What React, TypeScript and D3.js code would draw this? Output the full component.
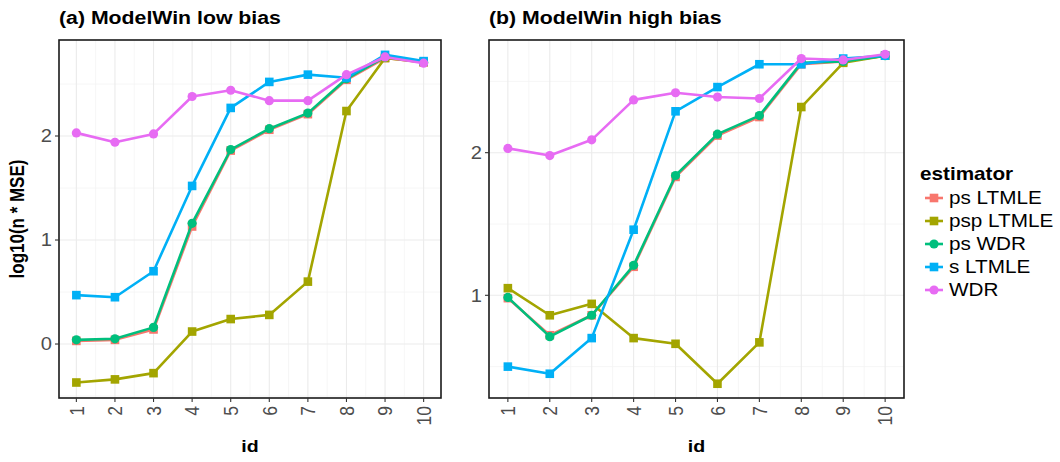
import { useEffect, useRef } from "react";
import * as d3 from "d3";

// estimator names + ggplot default hue colours
const estimators = ["ps LTMLE", "psp LTMLE", "ps WDR", "s LTMLE", "WDR"];
const colors = ["#F8766D", "#A3A500", "#00BF7D", "#00B0F6", "#E76BF3"];
const shapes = ["square", "square", "circle", "square", "circle"];
const ids = [1, 2, 3, 4, 5, 6, 7, 8, 9, 10];

// (a) ModelWin low bias
const lowPsLtmle = [0.03, 0.04, 0.14, 1.13, 1.86, 2.06, 2.21, 2.54, 2.75, 2.71];
const lowPspLtmle = [-0.37, -0.34, -0.28, 0.12, 0.24, 0.28, 0.6, 2.24, 2.75, 2.71];
const lowPsWdr = [0.04, 0.05, 0.16, 1.16, 1.87, 2.07, 2.22, 2.55, 2.76, 2.71];
const lowSLtmle = [0.47, 0.45, 0.7, 1.52, 2.27, 2.52, 2.59, 2.56, 2.78, 2.72];
const lowWdr = [2.03, 1.94, 2.02, 2.38, 2.44, 2.34, 2.34, 2.59, 2.76, 2.7];

// (b) ModelWin high bias
const highPsLtmle = [0.98, 0.72, 0.86, 1.2, 1.83, 2.12, 2.25, 2.62, 2.64, 2.68];
const highPspLtmle = [1.05, 0.86, 0.94, 0.7, 0.66, 0.38, 0.67, 2.32, 2.63, 2.68];
const highPsWdr = [0.985, 0.71, 0.86, 1.21, 1.84, 2.13, 2.26, 2.63, 2.64, 2.68];
const highSLtmle = [0.5, 0.45, 0.7, 1.46, 2.29, 2.46, 2.62, 2.62, 2.66, 2.68];
const highWdr = [2.03, 1.98, 2.09, 2.37, 2.42, 2.39, 2.38, 2.66, 2.65, 2.69];

const yTicksLow = [0, 1, 2];
const yTicksHigh = [1, 2];

const FONT = "'Liberation Sans', Arial, sans-serif";
const SX = 1.15; // the original render is a bit wider than tall

export default function App() {
  const ref = useRef<SVGSVGElement | null>(null);

  useEffect(() => {
    if (!ref.current) return;
    const svg = d3.select(ref.current);
    svg.selectAll("*").remove();

    const panels = [
      {
        title: "(a) ModelWin low bias",
        left: 59, right: 441, top: 40, bottom: 398,
        domain: [-0.519, 2.923],
        ticks: yTicksLow,
        series: [lowPsLtmle, lowPspLtmle, lowPsWdr, lowSLtmle, lowWdr],
      },
      {
        title: "(b) ModelWin high bias",
        left: 489, right: 904, top: 40, bottom: 398,
        domain: [0.28, 2.79],
        ticks: yTicksHigh,
        series: [highPsLtmle, highPspLtmle, highPsWdr, highSLtmle, highWdr],
      },
    ];

    panels.forEach(p => {
      const g = svg.append("g");
      const w = p.right - p.left;
      const x = d3.scaleLinear().domain([0.55, 10.45]).range([p.left, p.right]);
      const y = d3.scaleLinear().domain(p.domain).range([p.bottom, p.top]);

      /* ---------------- GRID ---------------- */
      const minorY: number[] = [];
      for (let v = Math.ceil(p.domain[0] * 2) / 2; v <= p.domain[1]; v += 0.5) {
        if (Math.abs(v - Math.round(v)) > 0.01) minorY.push(v);
      }
      const minorX = ids.slice(0, -1).map(d => d + 0.5);

      g.selectAll(".minx").data(minorX).enter().append("line")
        .attr("x1", d => x(d)).attr("x2", d => x(d))
        .attr("y1", p.top).attr("y2", p.bottom)
        .attr("stroke", "#F4F4F4").attr("stroke-width", 0.8);
      g.selectAll(".miny").data(minorY).enter().append("line")
        .attr("x1", p.left).attr("x2", p.right)
        .attr("y1", d => y(d)).attr("y2", d => y(d))
        .attr("stroke", "#F4F4F4").attr("stroke-width", 0.8);
      g.selectAll(".majx").data(ids).enter().append("line")
        .attr("x1", d => x(d)).attr("x2", d => x(d))
        .attr("y1", p.top).attr("y2", p.bottom)
        .attr("stroke", "#EBEBEB").attr("stroke-width", 1.1);
      g.selectAll(".majy").data(p.ticks).enter().append("line")
        .attr("x1", p.left).attr("x2", p.right)
        .attr("y1", d => y(d)).attr("y2", d => y(d))
        .attr("stroke", "#EBEBEB").attr("stroke-width", 1.1);

      /* ---------------- LINES + POINTS ---------------- */
      const line = d3.line<number>()
        .x((_, i) => x(ids[i]))
        .y(d => y(d));

      p.series.forEach((vals, si) => {
        g.append("path")
          .datum(vals)
          .attr("fill", "none")
          .attr("stroke", colors[si])
          .attr("stroke-width", 2.6)
          .attr("stroke-linejoin", "round")
          .attr("d", line);
        if (shapes[si] === "circle") {
          g.selectAll(null).data(vals).enter().append("circle")
            .attr("cx", (_, i) => x(ids[i]))
            .attr("cy", d => y(d))
            .attr("r", 4.6)
            .attr("fill", colors[si]);
        } else {
          g.selectAll(null).data(vals).enter().append("rect")
            .attr("x", (_, i) => x(ids[i]) - 4.3)
            .attr("y", d => y(d) - 4.3)
            .attr("width", 8.6).attr("height", 8.6)
            .attr("fill", colors[si]);
        }
      });

      /* ---------------- BORDER ---------------- */
      g.append("rect")
        .attr("x", p.left).attr("y", p.top)
        .attr("width", w).attr("height", p.bottom - p.top)
        .attr("fill", "none").attr("stroke", "#1A1A1A").attr("stroke-width", 1.6);

      /* ---------------- AXES ---------------- */
      g.selectAll(".yt").data(p.ticks).enter().append("line")
        .attr("x1", p.left - 4).attr("x2", p.left)
        .attr("y1", d => y(d)).attr("y2", d => y(d))
        .attr("stroke", "#333333").attr("stroke-width", 1.1);
      g.selectAll(".yl").data(p.ticks).enter().append("text")
        .attr("transform", d => `translate(${p.left - 7},${y(d)}) scale(${SX},1)`)
        .attr("dy", "0.36em")
        .attr("text-anchor", "end")
        .attr("font-family", FONT).attr("font-size", 17.5)
        .attr("fill", "#4D4D4D")
        .text(d => d);

      g.selectAll(".xt").data(ids).enter().append("line")
        .attr("x1", d => x(d)).attr("x2", d => x(d))
        .attr("y1", p.bottom).attr("y2", p.bottom + 4)
        .attr("stroke", "#333333").attr("stroke-width", 1.1);
      g.selectAll(".xl").data(ids).enter().append("text")
        .attr("transform", d => `translate(${x(d)},${p.bottom + 8}) scale(${SX},1) rotate(-90)`)
        .attr("dy", "0.36em")
        .attr("text-anchor", "end")
        .attr("font-family", FONT).attr("font-size", 17.5)
        .attr("fill", "#4D4D4D")
        .text(d => d);

      g.append("text")
        .attr("transform", `translate(${(p.left + p.right) / 2},452) scale(${SX},1)`)
        .attr("text-anchor", "middle")
        .attr("font-family", FONT).attr("font-size", 17).attr("font-weight", "bold")
        .text("id");

      g.append("text")
        .attr("transform", `translate(${p.left},24) scale(${SX},1)`)
        .attr("font-family", FONT).attr("font-size", 18.5).attr("font-weight", "bold")
        .text(p.title);
    });

    svg.append("text")
      .attr("transform", `translate(24,219) scale(${SX},1) rotate(-90)`)
      .attr("text-anchor", "middle")
      .attr("font-family", FONT).attr("font-size", 17).attr("font-weight", "bold")
      .text("log10(n * MSE)");

    /* ---------------- LEGEND ---------------- */
    const lg = svg.append("g").attr("transform", "translate(920,0)");
    lg.append("text")
      .attr("transform", `translate(0,180) scale(${SX},1)`)
      .attr("font-family", FONT).attr("font-size", 18).attr("font-weight", "bold")
      .text("estimator");
    estimators.forEach((name, i) => {
      const cy = 198 + i * 23;
      lg.append("line")
        .attr("x1", 5).attr("x2", 23).attr("y1", cy).attr("y2", cy)
        .attr("stroke", colors[i]).attr("stroke-width", 2.6);
      if (shapes[i] === "circle") {
        lg.append("circle").attr("cx", 14).attr("cy", cy).attr("r", 4.6).attr("fill", colors[i]);
      } else {
        lg.append("rect").attr("x", 9.7).attr("y", cy - 4.3)
          .attr("width", 8.6).attr("height", 8.6).attr("fill", colors[i]);
      }
      lg.append("text")
        .attr("transform", `translate(29,${cy}) scale(${SX},1)`)
        .attr("dy", "0.36em")
        .attr("font-family", FONT).attr("font-size", 18)
        .text(name);
    });
  }, []);

  return (
    <svg
      ref={ref}
      width={1060}
      height={462}
      style={{ position: "absolute", left: 0, top: 0, background: "white" }}
    />
  );
}
